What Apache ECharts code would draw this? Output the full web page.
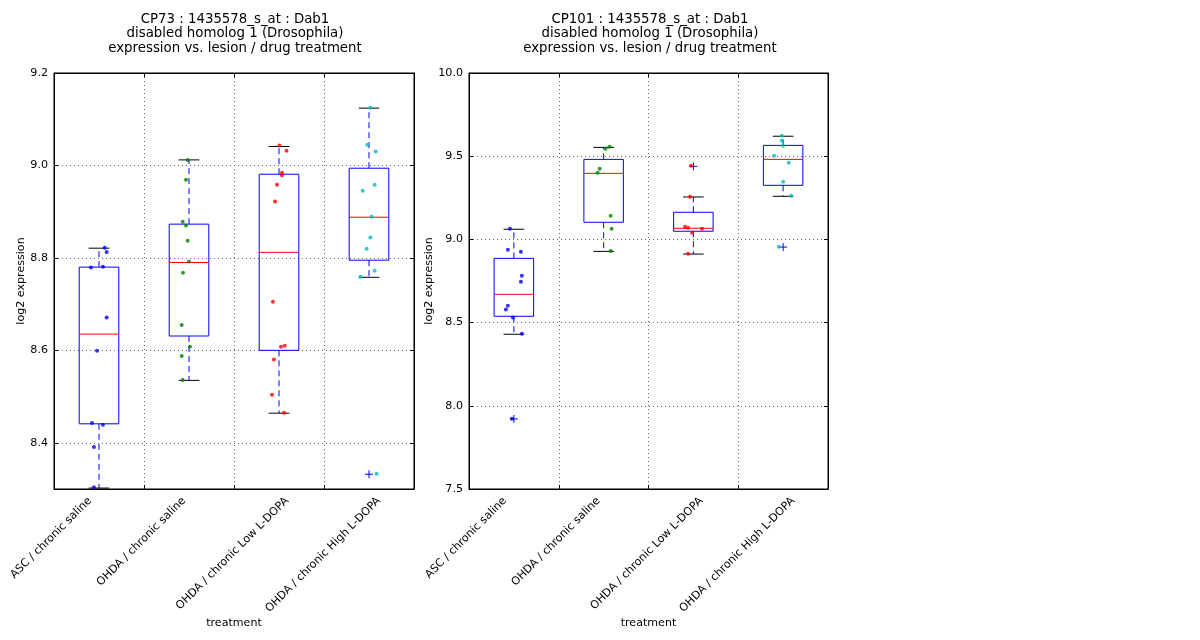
<!DOCTYPE html>
<html><head><meta charset="utf-8">
<script src="https://cdn.jsdelivr.net/npm/echarts@6/dist/echarts.min.js"></script>
<style>html,body{margin:0;padding:0;background:#fff}#c{width:1200px;height:640px}</style>
</head><body><div id="c"></div>
<script>
const categories = ['ASC / chronic saline','OHDA / chronic saline','OHDA / chronic Low L-DOPA','OHDA / chronic High L-DOPA'];
const groupColors = ['#0000ff','#008000','#ff0000','#00bfbf'];

const cp73Title = 'CP73 : 1435578_s_at : Dab1\ndisabled homolog 1 (Drosophila)\nexpression vs. lesion / drug treatment';
const cp73Values = [
  [8.822,8.813,8.779,8.781,8.671,8.599,8.443,8.439,8.391,8.304],
  [9.012,8.969,8.878,8.870,8.837,8.792,8.768,8.655,8.608,8.588,8.536],
  [9.043,9.032,8.984,8.979,8.958,8.922,8.705,8.610,8.608,8.580,8.504,8.465],
  [9.125,9.045,9.030,8.958,8.945,8.889,8.844,8.820,8.772,8.759,8.333]
];
const cp73Jitter = [
  [0.063,0.085,-0.089,0.044,0.085,-0.022,-0.078,0.044,-0.056,-0.056],
  [-0.015,-0.033,-0.07,-0.033,-0.015,0,-0.067,-0.081,0.011,-0.081,-0.07],
  [0.005,0.083,0.033,0.033,-0.022,-0.044,-0.067,0.063,0.022,-0.056,-0.078,0.056],
  [0.015,-0.019,0.074,0.063,-0.07,0.03,0.015,-0.026,0.063,-0.093,0.085]
];
// [lower whisker, Q1, median, Q3, upper whisker]
const cp73Box = [
  [8.302,8.441,8.635,8.780,8.821],
  [8.535,8.631,8.790,8.873,9.012],
  [8.464,8.600,8.812,8.981,9.041],
  [8.758,8.795,8.888,8.994,9.124]
];
const cp73Fliers = [[],[],[],[8.332]];
const cp73YTicks = [8.4,8.6,8.8,9.0,9.2];
const cp73YRange = [8.3,9.2];

const cp101Title = 'CP101 : 1435578_s_at : Dab1\ndisabled homolog 1 (Drosophila)\nexpression vs. lesion / drug treatment';
const cp101Values = [
  [9.064,8.938,8.926,8.782,8.746,8.602,8.578,8.530,8.433,7.922],
  [9.557,9.545,9.425,9.401,9.142,9.064,8.930],
  [9.443,9.257,9.076,9.070,9.064,9.040,8.914],
  [9.623,9.593,9.563,9.503,9.461,9.347,9.263,8.956]
];
const cp101Jitter = [
  [-0.044,-0.067,0.078,0.089,0.078,-0.067,-0.089,-0.011,0.089,-0.022],
  [0.067,0.022,-0.044,-0.067,0.078,0.089,0.078],
  [-0.026,-0.037,-0.093,-0.059,0.096,-0.015,-0.059],
  [-0.015,-0.015,0,-0.1,0.063,0,0.089,-0.048]
];
const cp101Box = [
  [8.430,8.538,8.670,8.886,9.061],
  [8.928,9.103,9.397,9.481,9.553],
  [8.912,9.049,9.067,9.163,9.255],
  [9.259,9.325,9.481,9.565,9.620]
];
const cp101Fliers = [[7.921],[],[9.439],[8.954]];
const cp101YTicks = [7.5,8.0,8.5,9.0,9.5,10.0];
const cp101YRange = [7.5,10.0];

// where the rotated category labels are anchored (category units, as in the reference)
const labelAnchors = [-0.022, 1.022, 2.167, 3.189];

const FONT = 'DejaVu Sans';
const panels = [
  {title: cp73Title, values: cp73Values, jitter: cp73Jitter, box: cp73Box, fliers: cp73Fliers, ticks: cp73YTicks, range: cp73YRange, left: 54, right: 786, nameGap: 24},
  {title: cp101Title, values: cp101Values, jitter: cp101Jitter, box: cp101Box, fliers: cp101Fliers, ticks: cp101YTicks, range: cp101YRange, left: 469, right: 372, nameGap: 30}
];

const option = {
  animation: false,
  backgroundColor: '#fff',
  textStyle: {fontFamily: FONT},
  title: [], grid: [], xAxis: [], yAxis: [], series: []
};

function boxRender(params, api) {
  const x = api.value(0), lo = api.value(1), q1 = api.value(2), med = api.value(3), q3 = api.value(4), hi = api.value(5);
  const hw = 0.22, cw = 0.115;
  const tl = api.coord([x - hw, q3]), br = api.coord([x + hw, q1]);
  const c = api.coord([x, med]);
  const mL = api.coord([x - hw, med]), mR = api.coord([x + hw, med]);
  const pHi = api.coord([x, hi]), pLo = api.coord([x, lo]);
  const pQ3 = api.coord([x, q3]), pQ1 = api.coord([x, q1]);
  const cL = api.coord([x - cw, 0])[0], cR = api.coord([x + cw, 0])[0];
  const dash = {stroke: '#0000ff', lineWidth: 1, lineDash: [6, 4]};
  return {type: 'group', children: [
    {type: 'line', shape: {x1: pQ3[0], y1: pQ3[1], x2: pHi[0], y2: pHi[1]}, style: dash},
    {type: 'line', shape: {x1: pQ1[0], y1: pQ1[1], x2: pLo[0], y2: pLo[1]}, style: dash},
    {type: 'line', shape: {x1: cL, y1: pHi[1], x2: cR, y2: pHi[1]}, style: {stroke: '#000', lineWidth: 1}},
    {type: 'line', shape: {x1: cL, y1: pLo[1], x2: cR, y2: pLo[1]}, style: {stroke: '#000', lineWidth: 1}},
    {type: 'rect', shape: {x: tl[0], y: tl[1], width: br[0] - tl[0], height: br[1] - tl[1]}, style: {fill: 'none', stroke: '#0000ff', lineWidth: 1}},
    {type: 'line', shape: {x1: mL[0], y1: c[1], x2: mR[0], y2: c[1]}, style: {stroke: '#ff0000', lineWidth: 1}}
  ]};
}
function flierRender(params, api) {
  const p = api.coord([api.value(0), api.value(1)]);
  const s = 4;
  return {type: 'group', children: [
    {type: 'line', shape: {x1: p[0] - s, y1: p[1], x2: p[0] + s, y2: p[1]}, style: {stroke: '#0000ff', lineWidth: 1}},
    {type: 'line', shape: {x1: p[0], y1: p[1] - s, x2: p[0], y2: p[1] + s}, style: {stroke: '#0000ff', lineWidth: 1}}
  ]};
}

const gridLine = {show: true, lineStyle: {color: '#666', type: [1, 3], width: 1}};
panels.forEach((p, i) => {
  const cx = p.left + 181;
  option.title.push({text: p.title, left: cx, top: 12, textAlign: 'center', padding: 0,
    textStyle: {fontFamily: FONT, fontSize: 13.33, fontWeight: 'normal', color: '#000', lineHeight: 14.5}});
  option.grid.push({left: p.left, right: p.right, top: 73, bottom: 151, show: true, borderColor: '#000', borderWidth: 1, backgroundColor: 'transparent'});
  // category axis: frame, ticks, grid lines, axis name
  option.xAxis.push({type: 'category', gridIndex: i, data: categories, boundaryGap: true, position: 'bottom',
    name: 'treatment', nameLocation: 'middle', nameGap: 129, nameMoveOverlap: false,
    nameTextStyle: {fontFamily: FONT, fontSize: 11.1, color: '#000'},
    axisLine: {onZero: false, lineStyle: {color: '#000'}},
    axisTick: {show: true, inside: true, length: 4, interval: 0, lineStyle: {color: '#000'}},
    axisLabel: {show: false, interval: 0},
    splitLine: {show: true, interval: 0, lineStyle: {color: '#666', type: [1, 3], width: 1}}});
  // value axis used by the marks
  option.xAxis.push({type: 'value', gridIndex: i, min: -0.5, max: 3.5, show: false});
  option.xAxis.push({type: 'category', gridIndex: i, data: categories, boundaryGap: true, position: 'top',
    axisLine: {onZero: false, lineStyle: {color: '#000'}},
    axisTick: {show: true, inside: true, length: 4, interval: 0, lineStyle: {color: '#000'}},
    axisLabel: {show: false, interval: 0}, splitLine: {show: false}});
  // label-only axis for the rotated category labels
  option.xAxis.push({type: 'value', gridIndex: i, min: -0.5, max: 3.5, position: 'bottom',
    axisLine: {show: false, onZero: false}, axisTick: {show: false}, splitLine: {show: false},
    axisLabel: {show: true, customValues: labelAnchors, rotate: 45, fontFamily: FONT, fontSize: 11.1, color: '#000',
      margin: 3, padding: [0, 10, 0, 0], formatter: v => categories[Math.round(v)]}});
  option.yAxis.push({type: 'value', gridIndex: i, min: p.range[0], max: p.range[1], position: 'left',
    name: 'log2 expression', nameLocation: 'middle', nameGap: p.nameGap, nameRotate: 90,
    nameTextStyle: {fontFamily: FONT, fontSize: 11.1, color: '#000'},
    axisLine: {show: true, onZero: false, lineStyle: {color: '#000'}},
    axisTick: {show: true, inside: true, length: 4, customValues: p.ticks, lineStyle: {color: '#000'}},
    axisLabel: {fontFamily: FONT, fontSize: 11.1, color: '#000', margin: 6, customValues: p.ticks, formatter: v => v.toFixed(1)},
    splitLine: gridLine});
  option.yAxis.push({type: 'value', gridIndex: i, min: p.range[0], max: p.range[1], position: 'right',
    axisLine: {show: true, onZero: false, lineStyle: {color: '#000'}},
    axisTick: {show: true, inside: true, length: 4, customValues: p.ticks, lineStyle: {color: '#000'}},
    axisLabel: {show: false}, splitLine: {show: false}});
  const xv = 4 * i + 1, yv = 2 * i;
  option.series.push({type: 'custom', xAxisIndex: xv, yAxisIndex: yv, renderItem: boxRender, z: 2,
    data: p.box.map((b, g) => [g, ...b])});
  const fl = [];
  p.fliers.forEach((arr, g) => arr.forEach(v => fl.push([g, v])));
  option.series.push({type: 'custom', xAxisIndex: xv, yAxisIndex: yv, renderItem: flierRender, z: 3, data: fl});
  p.values.forEach((arr, g) => {
    option.series.push({type: 'scatter', xAxisIndex: xv, yAxisIndex: yv, symbol: 'circle', symbolSize: 4, z: 4,
      itemStyle: {color: groupColors[g]},
      data: arr.map((v, k) => [g + p.jitter[g][k], v])});
  });
});

const chart = echarts.init(document.getElementById('c'), null, {renderer: 'canvas'});
chart.setOption(option);
</script></body></html>
